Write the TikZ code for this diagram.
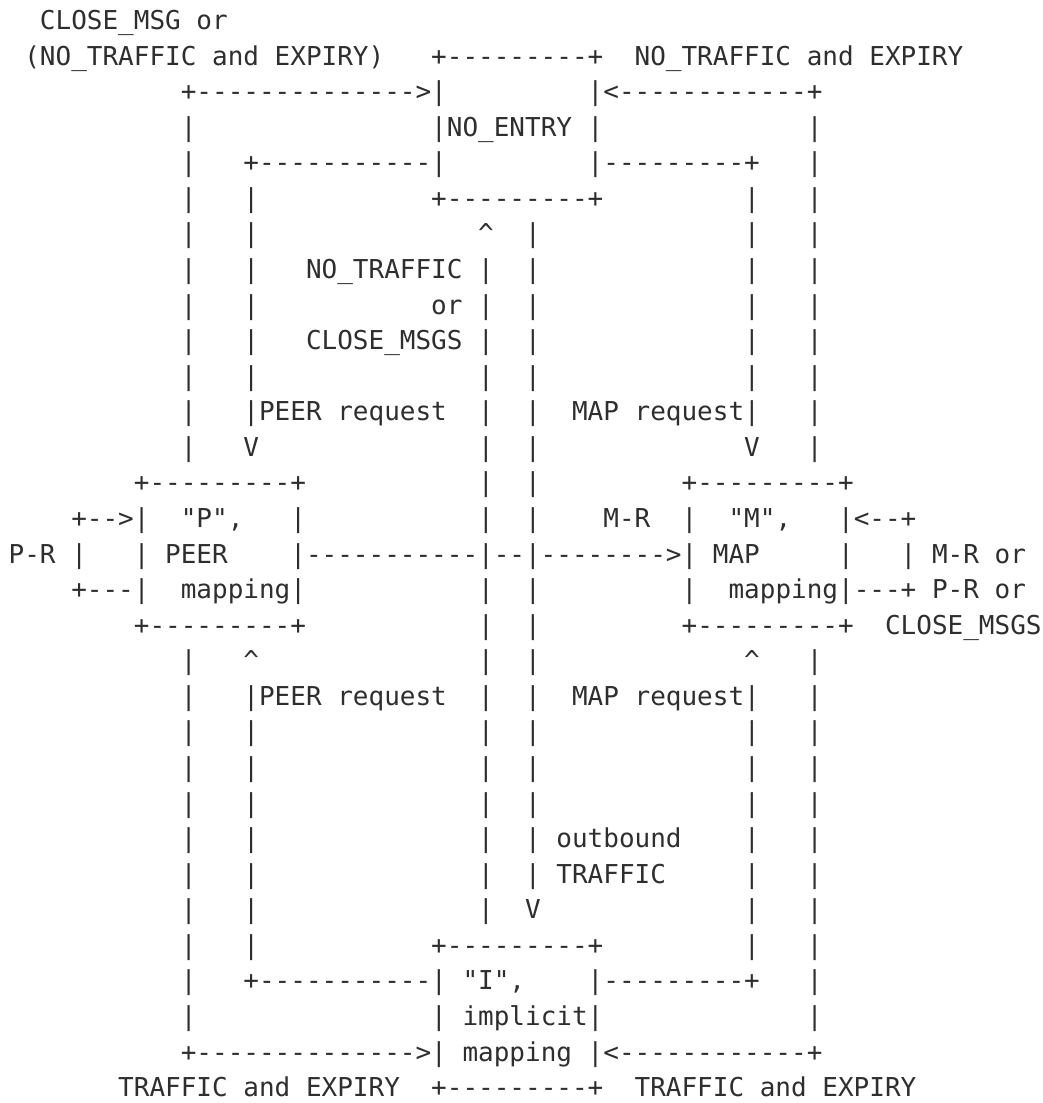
\documentclass[tikz,border=0pt]{standalone}
\usepackage{fontspec}
\setmonofont{DejaVu Sans Mono}
\definecolor{ink}{HTML}{2E2E2E}
% blank columns, one character wide each
\newcommand\sk[1]{\hspace*{#1\fontcharwd\font`M}}

\begin{document}
\begin{tikzpicture}[row/.style={anchor=base west,inner sep=0pt,outer sep=0pt,
				text=ink,font=\ttfamily\fontsize{18.49pt}{22pt}\selectfont}]
\path[ use as bounding box ] (0,0) rectangle (26.075,-27.575);

	\node[row] (r1)  at (0.2175,-0.7375)   {\sk{2}CLOSE\_MSG or};
	\node[row] (r2)  at (0.2175,-1.62675)  {\sk{1}(NO\_TRAFFIC and EXPIRY)\sk{3}+---------+\sk{2}NO\_TRAFFIC and EXPIRY};
	\node[row] (r3)  at (0.2175,-2.516)    {\sk{11}+-------------->|\sk{9}|<------------+};
	\node[row] (r4)  at (0.2175,-3.40525)  {\sk{11}|\sk{15}|NO\_ENTRY |\sk{13}|};
	\node[row] (r5)  at (0.2175,-4.2945)   {\sk{11}|\sk{3}+-----------|\sk{9}|---------+\sk{3}|};
	\node[row] (r6)  at (0.2175,-5.18375)  {\sk{11}|\sk{3}|\sk{11}+---------+\sk{9}|\sk{3}|};
	\node[row] (r7)  at (0.2175,-6.073)    {\sk{11}|\sk{3}|\sk{14}\textasciicircum\sk{2}|\sk{13}|\sk{3}|};
	\node[row] (r8)  at (0.2175,-6.96225)  {\sk{11}|\sk{3}|\sk{3}NO\_TRAFFIC\sk{1}|\sk{2}|\sk{13}|\sk{3}|};
	\node[row] (r9)  at (0.2175,-7.8515)   {\sk{11}|\sk{3}|\sk{11}or\sk{1}|\sk{2}|\sk{13}|\sk{3}|};
	\node[row] (r10) at (0.2175,-8.74075)  {\sk{11}|\sk{3}|\sk{3}CLOSE\_MSGS\sk{1}|\sk{2}|\sk{13}|\sk{3}|};
	\node[row] (r11) at (0.2175,-9.63)     {\sk{11}|\sk{3}|\sk{14}|\sk{2}|\sk{13}|\sk{3}|};
	\node[row] (r12) at (0.2175,-10.51925) {\sk{11}|\sk{3}|PEER request\sk{2}|\sk{2}|\sk{2}MAP request|\sk{3}|};
	\node[row] (r13) at (0.2175,-11.4085)  {\sk{11}|\sk{3}V\sk{14}|\sk{2}|\sk{13}V\sk{3}|};
	\node[row] (r14) at (0.2175,-12.29775) {\sk{8}+---------+\sk{11}|\sk{2}|\sk{9}+---------+};
	\node[row] (r15) at (0.2175,-13.187)   {\sk{4}+-->|\sk{2}"P",\sk{3}|\sk{11}|\sk{2}|\sk{4}M-R\sk{2}|\sk{2}"M",\sk{3}|<--+};
	\node[row] (r16) at (0.2175,-14.07625) {P-R\sk{1}|\sk{3}|\sk{1}PEER\sk{4}|-----------|--|-------->|\sk{1}MAP\sk{5}|\sk{3}|\sk{1}M-R or};
	\node[row] (r17) at (0.2175,-14.9655)  {\sk{4}+---|\sk{2}mapping|\sk{11}|\sk{2}|\sk{9}|\sk{2}mapping|---+\sk{1}P-R or};
	\node[row] (r18) at (0.2175,-15.85475) {\sk{8}+---------+\sk{11}|\sk{2}|\sk{9}+---------+\sk{2}CLOSE\_MSGS};
	\node[row] (r19) at (0.2175,-16.744)   {\sk{11}|\sk{3}\textasciicircum\sk{14}|\sk{2}|\sk{13}\textasciicircum\sk{3}|};
	\node[row] (r20) at (0.2175,-17.63325) {\sk{11}|\sk{3}|PEER request\sk{2}|\sk{2}|\sk{2}MAP request|\sk{3}|};
	\node[row] (r21) at (0.2175,-18.5225)  {\sk{11}|\sk{3}|\sk{14}|\sk{2}|\sk{13}|\sk{3}|};
	\node[row] (r22) at (0.2175,-19.41175) {\sk{11}|\sk{3}|\sk{14}|\sk{2}|\sk{13}|\sk{3}|};
	\node[row] (r23) at (0.2175,-20.301)   {\sk{11}|\sk{3}|\sk{14}|\sk{2}|\sk{13}|\sk{3}|};
	\node[row] (r24) at (0.2175,-21.19025) {\sk{11}|\sk{3}|\sk{14}|\sk{2}|\sk{1}outbound\sk{4}|\sk{3}|};
	\node[row] (r25) at (0.2175,-22.0795)  {\sk{11}|\sk{3}|\sk{14}|\sk{2}|\sk{1}TRAFFIC\sk{5}|\sk{3}|};
	\node[row] (r26) at (0.2175,-22.96875) {\sk{11}|\sk{3}|\sk{14}|\sk{2}V\sk{13}|\sk{3}|};
	\node[row] (r27) at (0.2175,-23.858)   {\sk{11}|\sk{3}|\sk{11}+---------+\sk{9}|\sk{3}|};
	\node[row] (r28) at (0.2175,-24.74725) {\sk{11}|\sk{3}+-----------|\sk{1}"I",\sk{4}|---------+\sk{3}|};
	\node[row] (r29) at (0.2175,-25.6365)  {\sk{11}|\sk{15}|\sk{1}implicit|\sk{13}|};
	\node[row] (r30) at (0.2175,-26.52575) {\sk{11}+-------------->|\sk{1}mapping\sk{1}|<------------+};
	\node[row] (r31) at (0.2175,-27.415)   {\sk{7}TRAFFIC and EXPIRY\sk{2}+---------+\sk{2}TRAFFIC and EXPIRY};
\end{tikzpicture}
\end{document}
